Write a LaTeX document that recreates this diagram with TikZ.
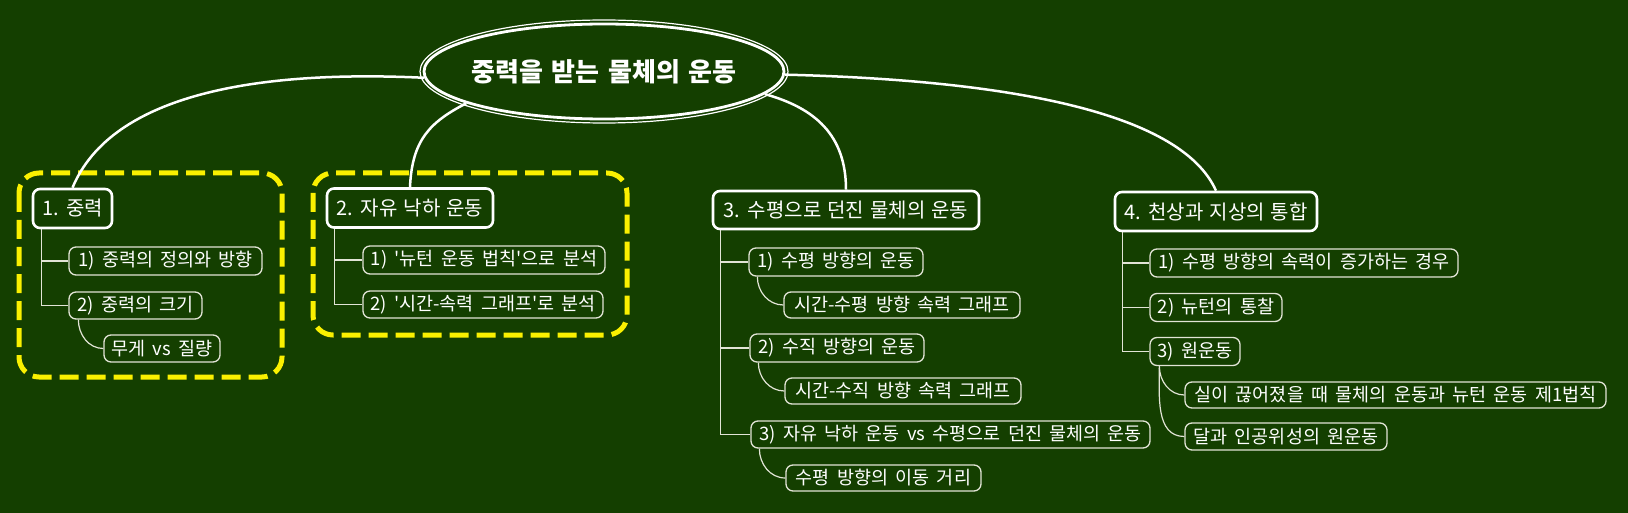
\documentclass[tikz,border=0pt]{standalone}
\usepackage{fontspec}
\setmainfont[Ligatures=TeXOff]{Noto Sans CJK KR}
\usetikzlibrary{shapes.geometric}
\definecolor{bg}{RGB}{20,63,0}
\definecolor{lg}{RGB}{226,228,214}
\definecolor{yel}{RGB}{250,240,0}
\newcommand\fonttitle{\bfseries\fontsize{26}{30}\selectfont\spaceskip 8.5pt\relax}
\newcommand\fontone{\fontsize{20}{23}\selectfont\spaceskip 6pt\relax}
\newcommand\fonttwo{\fontsize{18.5}{21}\selectfont\spaceskip 7.3pt\relax}
\tikzset{
  lvone/.style={draw=white, line width=2.6pt, rounded corners=7pt, fill=bg, text=white, inner sep=0pt, font=\fontone},
  lvtwo/.style={draw=lg, line width=1.3pt, rounded corners=7pt, fill=bg, text=white, inner sep=0pt, font=\fonttwo},
  tree/.style={draw=lg, line width=1.2pt},
  main/.style={draw=white, line width=2.5pt},
  ybox/.style={draw=yel, line width=5pt, dash pattern=on 19pt off 8pt, rounded corners=20pt}
}
\begin{document}
\begin{tikzpicture}[x=1pt,y=1pt]
\fill[bg] (0,0) rectangle (1628,-513);
\useasboundingbox (0,0) rectangle (1628,-513);

% yellow groups
\draw[ybox] (19,-173) rectangle (282,-377);
\draw[ybox] (313,-173) rectangle (627,-335);

% root
\node[ellipse, draw=white, line width=2.8pt, fill=bg, minimum width=360, minimum height=95, inner sep=0pt, text=white, font=\fonttitle] (root) at (604,-71.5) {\makebox[0pt][c]{중력을 받는 물체의 운동}};
\draw[white, line width=1.2pt] (root.center) ellipse [x radius=184, y radius=51.5];

% level 1
\node[lvone, minimum width=79, minimum height=39] (n1) at (72.5,-208.5) {1. 중력};
\node[lvone, minimum width=166, minimum height=39] (n2) at (410,-208) {2. 자유 낙하 운동};
\node[lvone, minimum width=266, minimum height=38] (n3) at (846,-210) {3. 수평으로 던진 물체의 운동};
\node[lvone, minimum width=202, minimum height=39] (n4) at (1216,-211.5) {4. 천상과 지상의 통합};

% level 2 : branch 1
\node[lvtwo, minimum width=193, minimum height=28] (a11) at (165.5,-261) {1) 중력의 정의와 방향};
\node[lvtwo, minimum width=133, minimum height=27] (a12) at (135.5,-305.5) {2) 중력의 크기};
\node[lvtwo, minimum width=116, minimum height=27] (a121) at (162,-348.5) {무게 vs 질량};
% branch 2
\node[lvtwo, minimum width=242, minimum height=28] (a21) at (484,-260) {1) '뉴턴 운동 법칙'으로 분석};
\node[lvtwo, minimum width=240, minimum height=27] (a22) at (483,-304.5) {2) '시간-속력 그래프'로 분석};
% branch 3
\node[lvtwo, minimum width=174, minimum height=28] (a31) at (836,-262) {1) 수평 방향의 운동};
\node[lvtwo, minimum width=236, minimum height=26] (a311) at (902,-305) {시간-수평 방향 속력 그래프};
\node[lvtwo, minimum width=174, minimum height=28] (a32) at (837,-348) {2) 수직 방향의 운동};
\node[lvtwo, minimum width=236, minimum height=26] (a321) at (903,-391) {시간-수직 방향 속력 그래프};
\node[lvtwo, minimum width=399, minimum height=27] (a33) at (950.5,-434.5) {3) 자유 낙하 운동 vs 수평으로 던진 물체의 운동};
\node[lvtwo, minimum width=195, minimum height=26] (a331) at (883.5,-478) {수평 방향의 이동 거리};
% branch 4
\node[lvtwo, minimum width=308, minimum height=28] (a41) at (1304,-263) {1) 수평 방향의 속력이 증가하는 경우};
\node[lvtwo, minimum width=132, minimum height=28] (a42) at (1216,-307.5) {2) 뉴턴의 통찰};
\node[lvtwo, minimum width=90, minimum height=28] (a43) at (1195,-351.5) {3) 원운동};
\node[lvtwo, minimum width=421, minimum height=26] (a431) at (1395.5,-395) {실이 끊어졌을 때 물체의 운동과 뉴턴 운동 제1법칙};
\node[lvtwo, minimum width=202, minimum height=27] (a432) at (1286,-436.5) {달과 인공위성의 원운동};

% main connectors
\draw[main] (root.182) .. controls (260,-70) and (112,-93) .. (n1.north);
\draw[main] (root.193) .. controls (430,-122) and (412,-140) .. (n2.north);
\draw[main] (root.-8) .. controls (815,-108) and (846,-135) .. (n3.north);
\draw[main] (root.-1) .. controls (1000,-80) and (1180,-110) .. (n4.north);

% tree connectors
\draw[tree] ([xshift=10]n1.south west) |- (a11.west);
\draw[tree] ([xshift=10]n1.south west) |- (a12.west);
\draw[tree] ([xshift=10]a12.south west) to[out=-90,in=180] (a121.west);

\draw[tree] ([xshift=9]n2.south west) |- (a21.west);
\draw[tree] ([xshift=9]n2.south west) |- (a22.west);

\draw[tree] ([xshift=9]n3.south west) |- (a31.west);
\draw[tree] ([xshift=9]n3.south west) |- (a32.west);
\draw[tree] ([xshift=9]n3.south west) |- (a33.west);
\draw[tree] ([xshift=9]a31.south west) to[out=-90,in=180] (a311.west);
\draw[tree] ([xshift=9]a32.south west) to[out=-90,in=180] (a321.west);
\draw[tree] ([xshift=9]a33.south west) to[out=-90,in=180] (a331.west);

\draw[tree] ([xshift=9]n4.south west) |- (a41.west);
\draw[tree] ([xshift=9]n4.south west) |- (a42.west);
\draw[tree] ([xshift=9]n4.south west) |- (a43.west);
\draw[tree] ([xshift=10]a43.south west) to[out=-90,in=180] (a431.west);
\draw[tree] ([xshift=10]a43.south west) to[out=-90,in=180] (a432.west);
\end{tikzpicture}
\end{document}
